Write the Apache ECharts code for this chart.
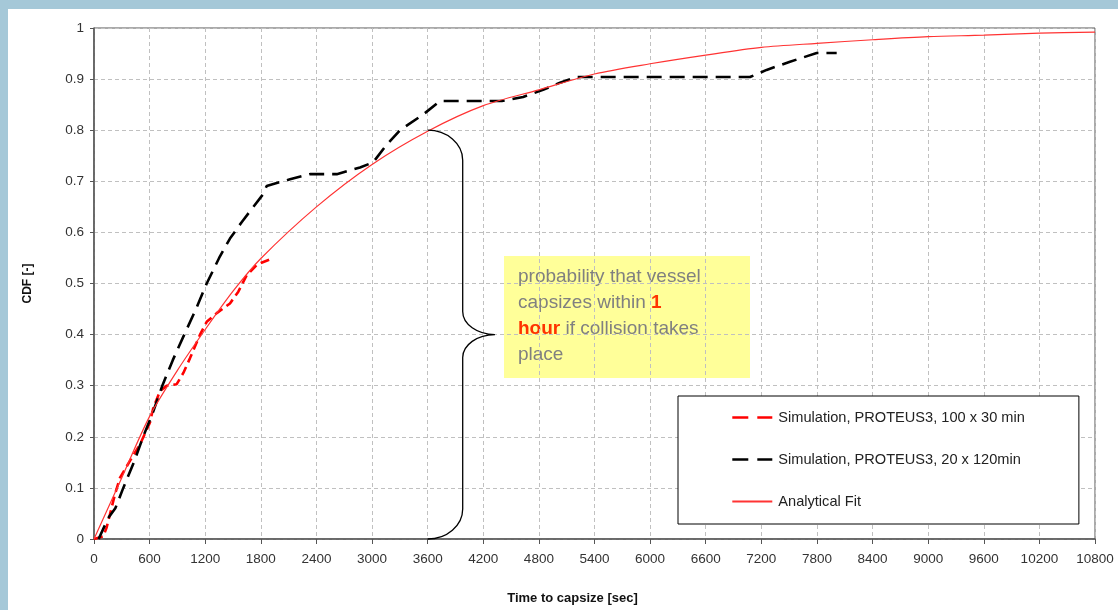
<!DOCTYPE html>
<html>
<head>
<meta charset="utf-8">
<script src="https://cdn.jsdelivr.net/npm/echarts@6/dist/echarts.min.js"></script>
<style>
  html, body { margin: 0; padding: 0; background: #fff; }
  #main { width: 1118px; height: 610px; }
</style>
</head>
<body>
<div id="main"></div>
<script>
// analytical fit (thin red line)
const fitTime = [0, 300, 600, 900, 1200, 1500, 1800, 2400, 3000, 3600, 4200, 4800, 5400, 6000, 6600, 7200, 7800, 8400, 9000, 9600, 10200, 10800];
const fitCdf = [0, 0.12, 0.24, 0.33, 0.41, 0.485, 0.549, 0.65, 0.733, 0.798, 0.848, 0.879, 0.91, 0.93, 0.947, 0.962, 0.97, 0.977, 0.983, 0.986, 0.99, 0.992];

// simulation, 20 x 120 min (black dashed)
const sim120Time = [50, 150, 230, 316, 430, 530, 640, 737, 850, 974, 1100, 1216, 1350, 1467, 1593, 1826, 1863, 2115, 2330, 2619, 2870, 3011, 3150, 3301, 3553, 3733, 4400, 4630, 4845, 5028, 5208, 7078, 7257, 7509, 7797, 8013];
const sim120Cdf = [0, 0.04, 0.06, 0.1, 0.15, 0.2, 0.25, 0.3, 0.35, 0.4, 0.45, 0.5, 0.55, 0.588, 0.62, 0.675, 0.691, 0.704, 0.714, 0.714, 0.727, 0.737, 0.77, 0.8, 0.831, 0.857, 0.857, 0.865, 0.879, 0.893, 0.904, 0.904, 0.918, 0.934, 0.951, 0.951];

// simulation, 100 x 30 min (red dashed)
const sim30Time = [0, 100, 137, 173, 227, 281, 388, 496, 604, 640, 712, 784, 892, 964, 1036, 1144, 1216, 1324, 1467, 1557, 1647, 1755, 1800, 1935];
const sim30Cdf = [0, 0.005, 0.023, 0.049, 0.088, 0.12, 0.153, 0.185, 0.228, 0.257, 0.289, 0.3, 0.303, 0.325, 0.354, 0.4, 0.425, 0.442, 0.461, 0.484, 0.516, 0.536, 0.54, 0.55];

// brace: top, bottom, tip and stem position (data units)
const braceTop = [3600, 0.8];
const braceBottom = [3600, 0];
const braceTip = [4326, 0.4];
const braceStemX = 3978;

const seriesNames = ['Simulation, PROTEUS3, 100 x 30 min', 'Simulation, PROTEUS3, 20 x 120min', 'Analytical Fit'];

const zip = (xs, ys) => xs.map((x, i) => [x, ys[i]]);
const font = 'Arial, "Liberation Sans", sans-serif';

const chart = echarts.init(document.getElementById('main'));

const option = {
  animation: false,
  textStyle: { fontFamily: font },
  grid: {
    left: 94, right: 23, top: 28, bottom: 68,
    show: true, borderColor: '#555', borderWidth: 1, backgroundColor: '#fff'
  },
  legend: {
    data: [
      { name: seriesNames[0], lineStyle: { type: [16, 9], width: 2.6 } },
      { name: seriesNames[1], lineStyle: { type: [16, 9], width: 2.6 } },
      { name: seriesNames[2] }
    ],
    orient: 'vertical',
    align: 'left',
    left: 678, top: 396,
    padding: [14, 54, 15, 53],
    itemGap: 27,
    itemWidth: 40, itemHeight: 14,
    itemStyle: { opacity: 0 },
    backgroundColor: '#fff',
    borderColor: '#000', borderWidth: 1,
    textStyle: { fontFamily: font, fontSize: 14.6, color: '#222', padding: [0, 0, 0, 1] }
  },
  xAxis: {
    type: 'value',
    min: 0, max: 10800, interval: 600,
    name: 'Time to capsize [sec]',
    nameLocation: 'middle',
    nameGap: 53,
    nameTextStyle: { fontFamily: font, fontWeight: 'bold', fontSize: 13, color: '#111', padding: [0, 44, 0, 0] },
    axisLine: { lineStyle: { color: '#555', width: 1.5 } },
    axisTick: { length: 5, lineStyle: { color: '#555' } },
    axisLabel: {
      margin: 13, fontSize: 13.5, color: '#333', fontFamily: font, showMaxLabel: true,
      formatter: (v) => String(v)
    },
    splitLine: { lineStyle: { color: '#c0c0c0', type: [4, 3] } }
  },
  yAxis: {
    type: 'value',
    min: 0, max: 1, interval: 0.1,
    name: 'CDF [-]',
    nameLocation: 'middle',
    nameGap: 60,
    nameTextStyle: { fontFamily: font, fontWeight: 'bold', fontSize: 12, color: '#111' },
    axisLine: { show: true, lineStyle: { color: '#555', width: 1.5 } },
    axisTick: { show: true, length: 4, lineStyle: { color: '#555' } },
    axisLabel: { margin: 10, fontSize: 13.5, color: '#333', fontFamily: font },
    splitLine: { lineStyle: { color: '#c0c0c0', type: [4, 3] } }
  },
  series: [
    {
      name: seriesNames[0],
      type: 'line',
      data: zip(sim30Time, sim30Cdf),
      showSymbol: false, symbol: 'none',
      itemStyle: { color: '#ff0000' },
      lineStyle: { color: '#ff0000', width: 2.6, type: [9, 5] },
      z: 3
    },
    {
      name: seriesNames[1],
      type: 'line',
      data: zip(sim120Time, sim120Cdf),
      showSymbol: false, symbol: 'none',
      itemStyle: { color: '#000' },
      lineStyle: { color: '#000', width: 2.6, type: [15, 8] },
      z: 3
    },
    {
      name: seriesNames[2],
      type: 'line',
      data: zip(fitTime, fitCdf),
      showSymbol: false, symbol: 'none',
      smooth: 0.3,
      itemStyle: { color: '#ff3333' },
      lineStyle: { color: '#ff3333', width: 1.2 },
      z: 4
    },
    {
      name: 'brace',
      type: 'custom',
      silent: true,
      clip: false,
      data: [[braceTip[0], braceTip[1]]],
      renderItem: function (params, api) {
        const t = api.coord(braceTop);
        const b = api.coord(braceBottom);
        const tip = api.coord(braceTip);
        const sx = api.coord([braceStemX, 0])[0];
        const k = 0.55;
        const r1 = 30, r2 = 23;
        const d = [
          'M', t[0], t[1],
          'C', t[0] + k * (sx - t[0]), t[1], sx, t[1] + r1 - k * r1, sx, t[1] + r1,
          'L', sx, tip[1] - r2,
          'C', sx, tip[1] - r2 + k * r2, tip[0] - k * (tip[0] - sx), tip[1], tip[0], tip[1],
          'C', tip[0] - k * (tip[0] - sx), tip[1], sx, tip[1] + r2 - k * r2, sx, tip[1] + r2,
          'L', sx, b[1] - r1,
          'C', sx, b[1] - r1 + k * r1, b[0] + k * (sx - b[0]), b[1], b[0], b[1]
        ].join(' ');
        return {
          type: 'path',
          shape: { pathData: d },
          style: { stroke: '#000', fill: null, lineWidth: 1.3 }
        };
      },
      z: 5
    }
  ],
  graphic: [
    { type: 'rect', left: 0, top: 0, shape: { width: 1118, height: 9 }, style: { fill: '#a5c8d8' }, silent: true },
    { type: 'rect', left: 0, top: 0, shape: { width: 8, height: 610 }, style: { fill: '#a5c8d8' }, silent: true },
    {
      type: 'group',
      left: 504, top: 256,
      z: 10,
      children: [
        { type: 'rect', shape: { width: 246, height: 122 }, style: { fill: '#ffff99' } },
        {
          type: 'text',
          left: 14, top: 8,
          style: {
            text: 'probability that vessel\ncapsizes within {b|1}\n{b|hour} if collision takes\nplace',
            font: '19px ' + font,
            fill: '#808080',
            lineHeight: 26,
            rich: {
              b: { fontWeight: 'bold', fill: '#ff3300', fontSize: 19, fontFamily: font, lineHeight: 26 }
            }
          }
        }
      ]
    }
  ]
};

chart.setOption(option);
</script>
</body>
</html>
